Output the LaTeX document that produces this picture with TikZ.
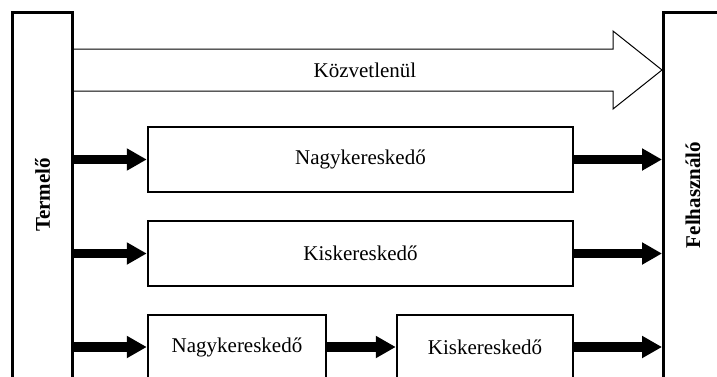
\documentclass[tikz,border=0pt]{standalone}
\usepackage{fontspec}
\setmainfont{Liberation Serif}
\usetikzlibrary{arrows.meta}
\begin{document}
\begin{tikzpicture}[x=1pt,y=-1pt,
  every node/.style={font=\fontsize{21}{25}\selectfont},
  endbox/.style={draw,line width=3pt,minimum width=60pt,inner sep=0pt,font=\fontsize{21}{25}\selectfont\bfseries},
  midbox/.style={draw,line width=2.5pt,inner sep=0pt},
  fatarrow/.style={line width=9.5pt,-{Triangle[length=20pt,width=21pt]}},
  hollow/.style={draw,line width=1pt,line join=miter}]
\useasboundingbox (0,0) rectangle (717,376);
\clip (0,0) rectangle (717,376);
% end boxes
\node[endbox,minimum height=370pt] (T) at (42.5,197) {};
\node[rotate=90,font=\fontsize{21}{25}\selectfont\bfseries] (Tl) at (42.5,195) {Termelő};
\node[endbox,minimum height=370pt] (F) at (693.5,197) {};
\node[rotate=90,font=\fontsize{21}{25}\selectfont\bfseries] (Fl) at (693,195) {Felhasználó};
% middle boxes
\node[midbox,minimum width=425pt,minimum height=65pt] (N1) at (360.5,159.5) {Nagykereskedő};
\node[midbox,minimum width=425pt,minimum height=65pt] (K1) at (360.5,253.5) {Kiskereskedő};
\node[midbox,minimum width=178pt,minimum height=64pt] (N2) at (237,347) {Nagykereskedő};
\node[midbox,minimum width=176pt,minimum height=64pt] (K2) at (485,347) {Kiskereskedő};
% hollow arrow
\coordinate (a1) at (T.east |- 0,49);
\coordinate (a2) at (T.east |- 0,91);
\coordinate (tip) at (F.west |- 0,70);
\draw[hollow] (a1) -- (613,49) -- (613,31) -- (tip) -- (613,109) -- (613,91) -- (a2);
\node (D) at (365,70) {Közvetlenül};
% fat arrows
\draw[fatarrow] (T.east |- N1.west) -- (N1.west);
\draw[fatarrow] (N1.east) -- (F.west |- N1.east);
\draw[fatarrow] (T.east |- K1.west) -- (K1.west);
\draw[fatarrow] (K1.east) -- (F.west |- K1.east);
\draw[fatarrow] (T.east |- N2.west) -- (N2.west);
\draw[fatarrow] (N2.east) -- (K2.west);
\draw[fatarrow] (K2.east) -- (F.west |- K2.east);
\end{tikzpicture}
\end{document}
